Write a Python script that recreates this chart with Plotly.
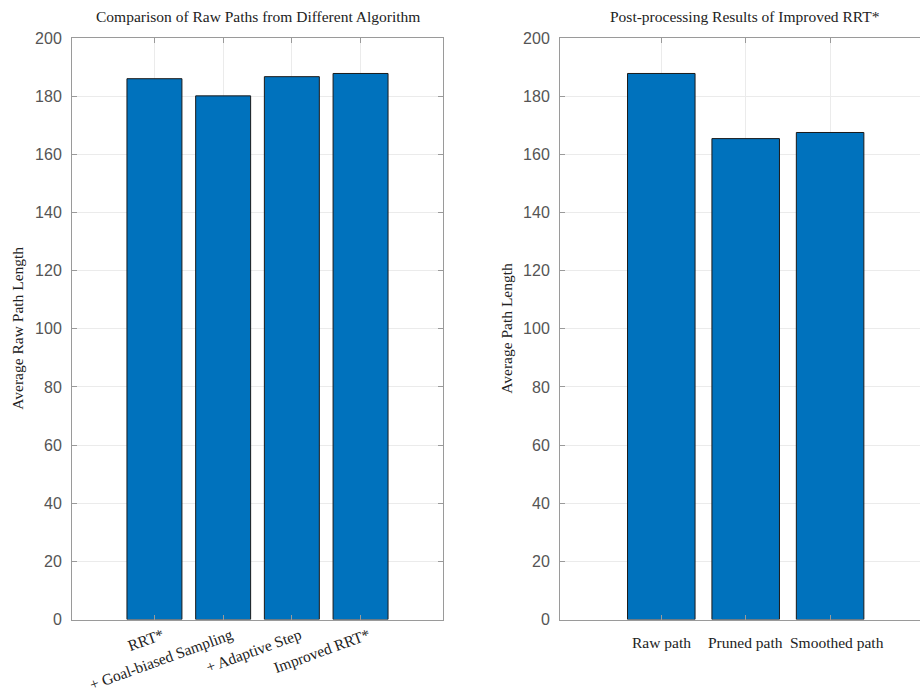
import plotly.graph_objects as go

# Average raw path length for each algorithm variant
algorithms = ["RRT*", "+ Goal-biased Sampling", "+ Adaptive Step", "Improved RRT*"]
raw_lengths = [186.0, 180.1, 186.7, 187.8]

# Path length after each post-processing stage of Improved RRT*
stages = ["Raw path", "Pruned path", "Smoothed path"]
stage_lengths = [187.8, 165.4, 167.5]

y_ticks = [0, 20, 40, 60, 80, 100, 120, 140, 160, 180, 200]

W, H = 920, 698
BAR_COLOR = "#0072BD"
AXIS_COLOR = "#9a9a9a"
GRID_COLOR = "#ebebeb"
TICK_FONT = dict(family="Liberation Sans, Arial", size=16, color="#555555")
SERIF = "Liberation Serif, Times New Roman, serif"
SERIF_SIZE = 15.5
TEXT_COLOR = "#222222"

plot_top, plot_bottom = 38, 619.5
ydom = [1 - plot_bottom / H, 1 - plot_top / H]

fig = go.Figure()
fig.add_trace(go.Bar(
    x=algorithms, y=raw_lengths, width=0.8,
    marker=dict(color=BAR_COLOR, line=dict(color="#1a1a1a", width=1)),
    xaxis="x", yaxis="y", showlegend=False,
))
fig.add_trace(go.Bar(
    x=stages, y=stage_lengths, width=0.8,
    marker=dict(color=BAR_COLOR, line=dict(color="#1a1a1a", width=1)),
    xaxis="x2", yaxis="y2", showlegend=False,
))

common_x = dict(
    type="category", showline=True, linecolor=AXIS_COLOR, linewidth=1,
    ticks="inside", ticklen=5, tickcolor=AXIS_COLOR, automargin=False,
    showgrid=True, gridcolor=GRID_COLOR, zeroline=False,
    tickfont=dict(family=SERIF, size=SERIF_SIZE, color=TEXT_COLOR),
)
common_y = dict(
    range=[0, 200], tickvals=y_ticks, showline=True, linecolor=AXIS_COLOR,
    linewidth=1, ticks="inside", ticklen=5, tickcolor=AXIS_COLOR,
    showgrid=True, gridcolor=GRID_COLOR, zeroline=False, automargin=False,
    tickfont=TICK_FONT, ticklabelstandoff=6,
)

left_x0, left_x1 = 72, 443
right_x0 = 560
# right axes extend slightly past the page edge: category step of ~84.5 px
right_step = 84.5
right_max = (W - 661) / right_step

fig.update_layout(
    width=W, height=H,
    margin=dict(l=0, r=0, t=0, b=0, autoexpand=False),
    paper_bgcolor="white", plot_bgcolor="white",
    bargap=0.2,
    xaxis=dict(common_x, domain=[left_x0 / W, left_x1 / W], range=[-1.2, 4.2],
               mirror="ticks", anchor="y", tickangle=-20, ticklabelshift=8),
    yaxis=dict(common_y, domain=ydom, mirror="ticks", anchor="x"),
    xaxis2=dict(common_x, domain=[right_x0 / W, 1.0], range=[-1.2, right_max],
                mirror="ticks", anchor="y2", showticklabels=False),
    yaxis2=dict(common_y, domain=ydom, mirror=False, anchor="x2"),
)

# category labels of the right panel, nudged apart so they don't collide
label_shift = [0, 0, 7]
for name, dx in zip(stages, label_shift):
    fig.add_annotation(text=name, x=name, xref="x2", y=1 - 642 / H, yref="paper",
                       xshift=dx, showarrow=False, xanchor="center", yanchor="middle",
                       font=dict(family=SERIF, size=SERIF_SIZE, color=TEXT_COLOR))

annotations = [
    dict(text="Comparison of Raw Paths from Different Algorithm",
         x=(left_x0 + left_x1) / 2 / W, y=1 - 17 / H),
    dict(text="Post-processing Results of Improved RRT*",
         x=(right_x0 + 930) / 2 / W, y=1 - 17 / H),
]
for a in annotations:
    fig.add_annotation(a, xref="paper", yref="paper", showarrow=False,
                       font=dict(family=SERIF, size=SERIF_SIZE, color=TEXT_COLOR),
                       xanchor="center", yanchor="middle")

for txt, xpx in [("Average Raw Path Length", 18), ("Average Path Length", 507)]:
    fig.add_annotation(text=txt, x=xpx / W, y=(ydom[0] + ydom[1]) / 2,
                       xref="paper", yref="paper", showarrow=False,
                       textangle=-90, xanchor="center", yanchor="middle",
                       font=dict(family=SERIF, size=SERIF_SIZE, color=TEXT_COLOR))

fig.write_html("out.html")
